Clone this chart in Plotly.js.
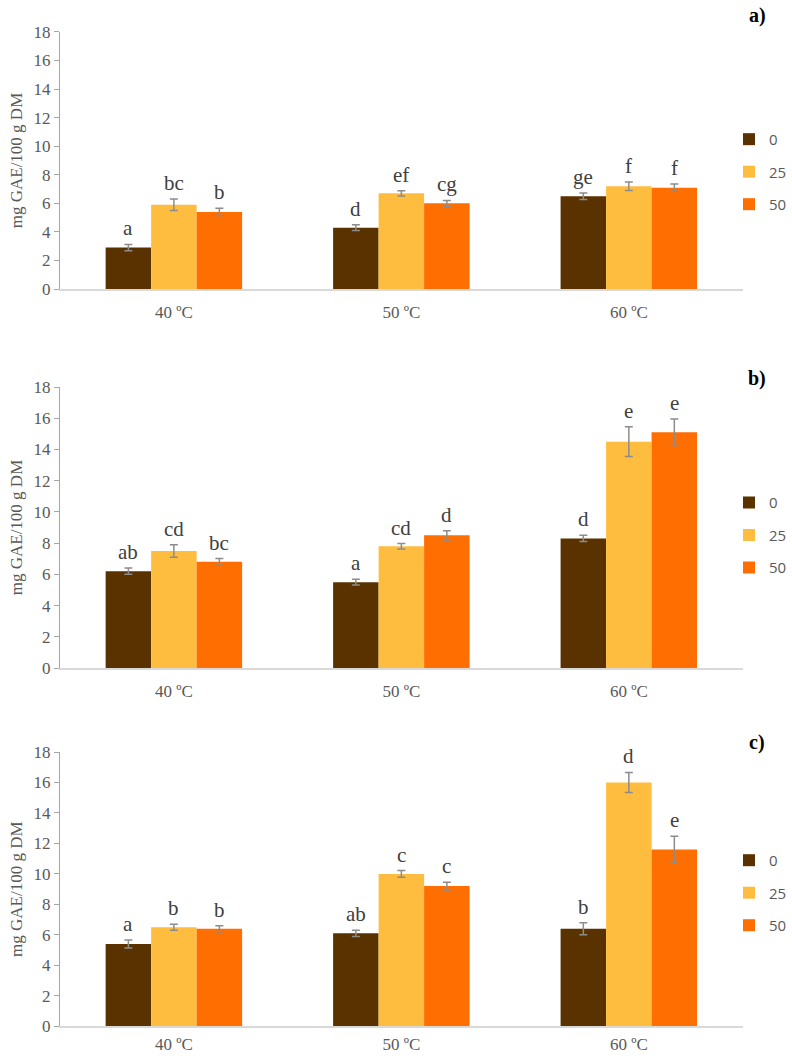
<!DOCTYPE html>
<html>
<head>
<meta charset="utf-8">
<script src="https://cdn.plot.ly/plotly-3.0.1.min.js"></script>
<style>html,body{margin:0;padding:0;background:#fff}#chart{width:792px;height:1058px}</style>
</head>
<body>
<div id="chart"></div>
<script>
// ---- data ----
const categories = ['40 ºC', '50 ºC', '60 ºC'];
const seriesNames = ['0', '25', '50'];
const panelLabels = ['a)', 'b)', 'c)'];
const yTitle = 'mg GAE/100 g DM';
const yTicks = [0, 2, 4, 6, 8, 10, 12, 14, 16, 18];

// panel a
const a_0 = [2.9, 4.3, 6.5];    const a_0_err = [0.22, 0.20, 0.23]; const a_0_lbl = ['a', 'd', 'ge'];
const a_25 = [5.9, 6.7, 7.2];   const a_25_err = [0.40, 0.18, 0.30]; const a_25_lbl = ['bc', 'ef', 'f'];
const a_50 = [5.4, 6.0, 7.1];   const a_50_err = [0.25, 0.20, 0.25]; const a_50_lbl = ['b', 'cg', 'f'];
// panel b
const b_0 = [6.2, 5.5, 8.3];    const b_0_err = [0.20, 0.18, 0.20]; const b_0_lbl = ['ab', 'a', 'd'];
const b_25 = [7.5, 7.8, 14.5];  const b_25_err = [0.40, 0.17, 0.95]; const b_25_lbl = ['cd', 'cd', 'e'];
const b_50 = [6.8, 8.5, 15.1];  const b_50_err = [0.21, 0.30, 0.85]; const b_50_lbl = ['bc', 'd', 'e'];
// panel c
const c_0 = [5.4, 6.1, 6.4];    const c_0_err = [0.26, 0.20, 0.40]; const c_0_lbl = ['a', 'ab', 'b'];
const c_25 = [6.5, 10.0, 16.0]; const c_25_err = [0.20, 0.22, 0.66]; const c_25_lbl = ['b', 'c', 'd'];
const c_50 = [6.4, 9.2, 11.6];  const c_50_err = [0.20, 0.26, 0.88]; const c_50_lbl = ['b', 'c', 'e'];

// ---- styling ----
const colors = ['#5A3200', '#FFBD3F', '#FF6E00'];
const serif = 'Liberation Serif, Times New Roman, serif';
const sans = 'Open Sans, Liberation Sans, sans-serif';
const grey = '#595959';

const panels = [
  {vals: [a_0, a_25, a_50], errs: [a_0_err, a_25_err, a_50_err], lbls: [a_0_lbl, a_25_lbl, a_50_lbl], dom: [0.7268, 0.9698], legY: 0.8375},
  {vals: [b_0, b_25, b_50], errs: [b_0_err, b_25_err, b_50_err], lbls: [b_0_lbl, b_25_lbl, b_50_lbl], dom: [0.3686, 0.6342], legY: 0.494},
  {vals: [c_0, c_25, c_50], errs: [c_0_err, c_25_err, c_50_err], lbls: [c_0_lbl, c_25_lbl, c_50_lbl], dom: [0.0300, 0.2892], legY: 0.156}
];

const xIdx = categories.map((_, i) => i);
const bargap = 0.4;
const barW = (1 - bargap) / seriesNames.length;

const traces = [];
const annotations = [];
const layout = {
  width: 792, height: 1058,
  margin: {l: 0, r: 0, t: 0, b: 0},
  paper_bgcolor: '#fff', plot_bgcolor: '#fff',
  barmode: 'group', bargap: bargap, bargroupgap: 0,
  showlegend: true,
  annotations: annotations
};

panels.forEach((p, pi) => {
  const n = pi === 0 ? '' : String(pi + 1);
  const legName = 'legend' + n;
  p.vals.forEach((v, si) => {
    traces.push({
      type: 'bar', x: xIdx, y: v, name: seriesNames[si],
      xaxis: 'x' + n, yaxis: 'y' + n,
      legend: legName,
      legendgroup: 'p' + pi + 's' + si,
      marker: {color: colors[si], line: {width: 0}},
      error_y: {type: 'data', array: p.errs[si], visible: true, color: '#8C8C8C', thickness: 1.5, width: 4},
      hoverinfo: 'skip'
    });
    v.forEach((val, ci) => {
      annotations.push({
        xref: 'x' + n, yref: 'y' + n,
        x: ci + (si - 1) * barW, y: val + p.errs[si][ci],
        text: p.lbls[si][ci], showarrow: false,
        yanchor: 'bottom', xanchor: 'center', yshift: 2,
        font: {family: serif, size: 21, color: '#404040'}
      });
    });
  });
  layout['xaxis' + n] = {
    domain: [0.077, 0.9508], anchor: 'y' + n,
    range: [-0.5, 2.5], tickvals: xIdx, ticktext: categories,
    showline: true, linecolor: '#D9D9D9', linewidth: 1.5,
    ticks: '', showgrid: false, zeroline: false, ticklabelstandoff: pi === 2 ? 2 : 7,
    tickfont: {family: serif, size: 17, color: grey}, fixedrange: true
  };
  layout['yaxis' + n] = {
    domain: p.dom, anchor: 'x' + n,
    range: [0, 18], tickvals: yTicks,
    showline: true, linecolor: '#A6A6A6', linewidth: 1.2,
    ticks: 'outside', ticklen: 5, tickcolor: '#A6A6A6',
    showgrid: false, zeroline: false,
    tickfont: {family: serif, size: 17, color: grey},
    title: {text: yTitle, font: {family: serif, size: 17, color: grey}, standoff: 6},
    fixedrange: true
  };
  layout[legName] = {
    x: 0.934, xanchor: 'left', y: p.legY, yanchor: 'middle', yref: 'paper',
    font: {family: sans, size: 15, color: grey},
    tracegroupgap: 10, traceorder: 'grouped', bgcolor: 'rgba(0,0,0,0)'
  };
  annotations.push({
    xref: 'paper', yref: 'paper', x: 768 / 792, y: 1 - [15, 378, 742][pi] / 1058,
    text: '<b>' + panelLabels[pi] + '</b>', showarrow: false,
    xanchor: 'center', yanchor: 'middle',
    font: {family: serif, size: 20, color: '#000'}
  });
});

Plotly.newPlot('chart', traces, layout, {displayModeBar: false, staticPlot: true});
</script>
</body>
</html>
